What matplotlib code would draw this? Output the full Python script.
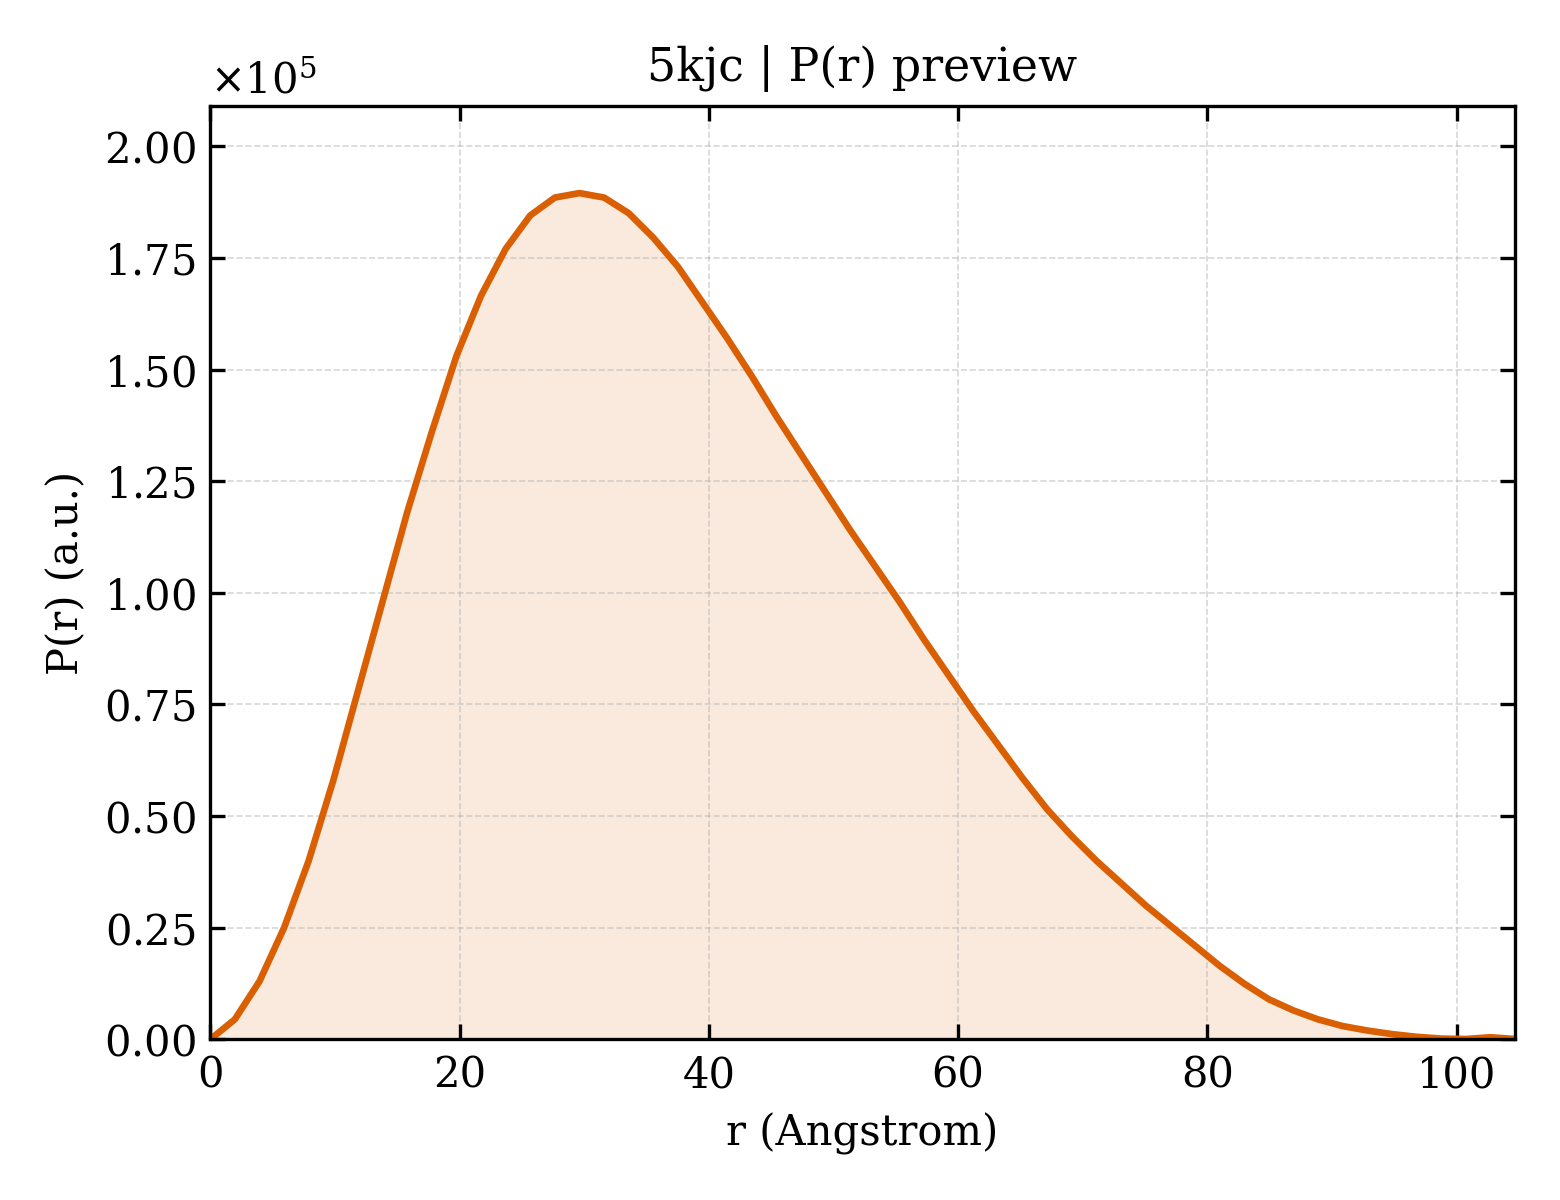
import numpy as np
import matplotlib
matplotlib.use("Agg")
import matplotlib.pyplot as plt
from matplotlib.ticker import ScalarFormatter

plt.rcParams['font.family'] = 'DejaVu Serif'

# P(r) values read from the preview, in units of 1e5
r_step = 1.975
pr_vals = [0, 0.045, 0.13, 0.25, 0.40, 0.58, 0.78, 0.98, 1.18, 1.36,
           1.53, 1.665, 1.77, 1.845, 1.885, 1.895, 1.885, 1.85, 1.795, 1.73,
           1.65, 1.57, 1.485, 1.395, 1.31, 1.225, 1.14, 1.06, 0.98, 0.895,
           0.815, 0.735, 0.66, 0.585, 0.515, 0.455, 0.40, 0.35, 0.30, 0.255,
           0.21, 0.165, 0.125, 0.09, 0.065, 0.045, 0.03, 0.02, 0.012, 0.006,
           0.002, 0.001, 0.005, 0.001]
r = np.arange(len(pr_vals)) * r_step
pr = np.array(pr_vals) * 1e5

fig, ax = plt.subplots(figsize=(5.2, 4), dpi=300)
ax.plot(r, pr, color='#d95f02', lw=1.6)
ax.fill_between(r, pr, color='#d95f02', alpha=0.13, lw=0)
ax.set_xlim(0, r[-1])
ax.set_ylim(0, 2.09e5)
ax.set_xlabel('r (Angstrom)')
ax.set_ylabel('P(r) (a.u.)')
ax.set_title('5kjc | P(r) preview', fontsize=11)
fmt = ScalarFormatter(useMathText=True)
fmt.set_powerlimits((0, 0))
ax.yaxis.set_major_formatter(fmt)
ax.tick_params(direction='in', top=True, right=True)
ax.grid(True, ls='--', lw=0.4, alpha=0.5)
fig.tight_layout()
fig.savefig('out.png')
